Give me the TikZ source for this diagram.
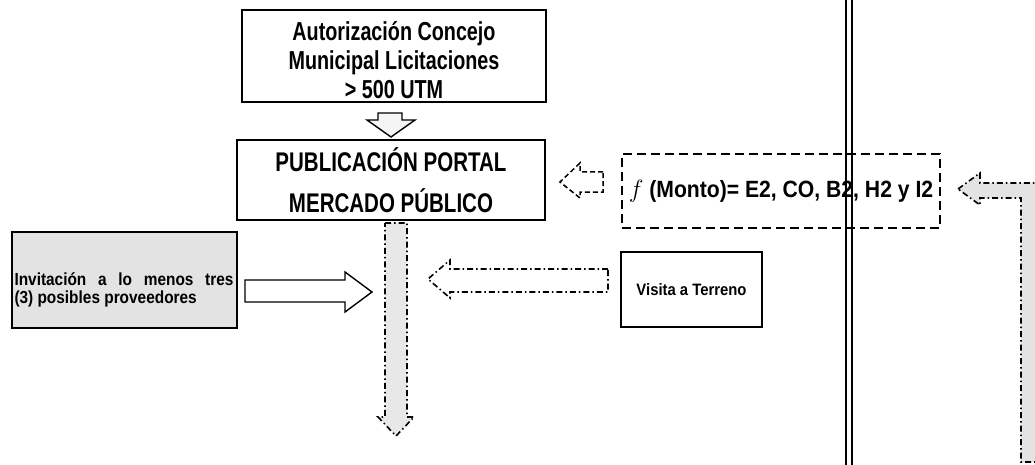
\documentclass[tikz,border=0pt]{standalone}
\usepackage{fontspec}
\setmainfont{Liberation Sans}
\newfontfamily\fcond{Liberation Sans}[FakeStretch=0.76]
\newfontfamily\fmid{Liberation Sans}[FakeStretch=0.9]
\newfontfamily\finv{Liberation Sans}[FakeStretch=0.88]
\usetikzlibrary{calc}
\begin{document}
\begin{tikzpicture}[x=1pt,y=-1pt,
  box/.style={draw, line width=1.4pt, inner sep=0pt},
  hollow/.style={draw, line width=1.4pt, line join=miter},
  dashdot/.style={draw, dash pattern=on 6pt off 3pt on 1.5pt off 3pt, line width=1.6pt},
  dashbox/.style={draw, dash pattern=on 9pt off 5pt, line width=1.5pt},
  dashsmall/.style={draw, dash pattern=on 5pt off 3pt, line width=1.5pt},
  shade/.style={fill=gray!18}]
\useasboundingbox (0,0) rectangle (1035,465);
\clip (0,0) rectangle (1035,465);
\fill[white] (0,0) rectangle (1035,465);

% double vertical line
\coordinate (dlt1) at (846,0); \coordinate (dlb1) at (846,465);
\coordinate (dlt2) at (852,0); \coordinate (dlb2) at (852,465);
\draw[line width=1.2pt] (dlt1) -- (dlb1);
\draw[line width=1.2pt] (dlt2) -- (dlb2);

% boxes
\node[box, minimum width=304pt, minimum height=92pt, align=center,
  font=\fcond\bfseries\fontsize{26}{29}\selectfont] (auth) at (394,56)
  {\rule{0pt}{28pt}Autorización Concejo\\Municipal Licitaciones\\> 500 UTM};

\node[box, minimum width=308pt, minimum height=80pt, align=center,
  font=\fcond\bfseries\fontsize{27}{41}\selectfont] (pub) at (391,180)
  {PUBLICACIÓN PORTAL\\MERCADO PÚBLICO};

\node[box, fill=gray!22, minimum width=225pt, minimum height=96pt] (inv) at (124.5,280) {};
\node[font=\finv\bfseries\fontsize{17.5}{18}\selectfont, align=left, inner sep=0pt, anchor=west]
  (invt) at ($(inv.west)+(3,10)$)
  {\hbox to 219pt{Invitación\hfill a\hfill lo\hfill menos\hfill tres}\\(3) posibles proveedores};

\node[box, minimum width=141pt, minimum height=75pt,
  font=\fmid\bfseries\fontsize{16.5}{18}\selectfont] (vis) at (691.5,289.5) {Visita a Terreno};

\node[dashbox, minimum width=318pt, minimum height=74pt,
  font=\fmid\bfseries\fontsize{23.5}{25}\selectfont] (mon) at (781,191)
  {$f$ (Monto)= E2, CO, B2, H2 y I2};

% down block arrow auth -> pub
\path[hollow, fill=gray!8] (378,113) -- (402,113) -- (402,120) -- (415,120) -- (391,137)
  -- (367,120) -- (378,120) -- cycle;

% right block arrow inv -> vertical flow
\path[hollow, fill=white] (245,280) -- (345,280) -- (345,272) -- (372,292) -- (345,312)
  -- (345,302) -- (245,302) -- cycle;

% vertical dash-dot arrow below pub
\path[dashdot, shade] (385,223) -- (407,223) -- (407,417) -- (414,417) -- (396,436)
  -- (378,417) -- (385,417) -- cycle;

% dash-dot left arrow from visita
\path[dashdot] (608,269) -- (450,269) -- (450,260) -- (428,279) -- (450,298)
  -- (450,292) -- (608,292) -- cycle;

% small dashed left arrow towards pub
\path[dashsmall] (603,172) -- (580,172) -- (580,163) -- (560,182) -- (580,198)
  -- (580,192) -- (603,192) -- cycle;

% right L-shaped arrow towards mon
\path[dashdot, fill=gray!22] (958,189) -- (980,173) -- (980,183) -- (1050,183)
  -- (1050,462) -- (1021,462) -- (1021,198) -- (980,198) -- (980,205) -- cycle;
\end{tikzpicture}
\end{document}
